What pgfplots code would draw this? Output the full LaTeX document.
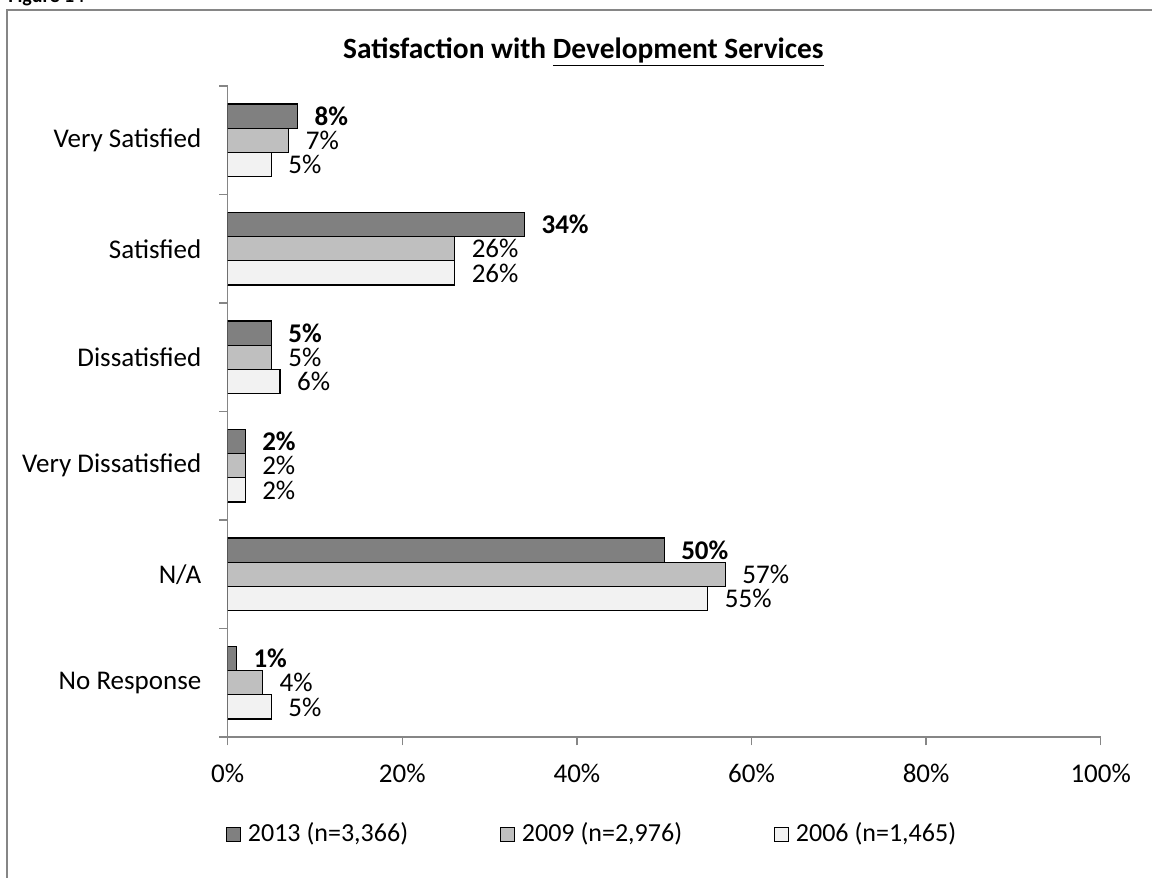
\documentclass[border=0pt]{standalone}
\usepackage{fontspec}
\setmainfont{Carlito}
\usepackage{pgfplots}
\pgfplotsset{compat=1.18}
\definecolor{c13}{HTML}{808080}
\definecolor{c09}{HTML}{BFBFBF}
\definecolor{c06}{HTML}{F2F2F2}
\definecolor{axgray}{HTML}{868686}
\begin{document}
\begin{tikzpicture}[x=1pt,y=1pt]
\useasboundingbox (0,0) rectangle (576,439);
\node[anchor=base west, font=\bfseries\fontsize{10}{12}\selectfont, inner sep=0pt] at (4,437.6) {Figure 14};
\draw[axgray, line width=1pt] (3.5,-20) -- (3.5,434) -- (600,434);
\node[font=\bfseries\fontsize{14.7}{17}\selectfont, inner sep=0pt] at (291.75,413) {Satisfaction with \underline{Development Services}};
\begin{axis}[
  at={(113.85pt,70.5pt)}, anchor=south west,
  scale only axis, width=436.5pt, height=325.5pt,
  xbar, bar width=12.1pt,
  xmin=0, xmax=100, ymin=-0.5, ymax=5.5,
  enlargelimits=false,
  axis lines=left,
  axis line style={-, axgray, line width=0.75pt},
  tick style={axgray, line width=0.75pt},
  tick align=outside,
  major tick length=4.25pt,
  /pgf/number format/assume math mode=true,
  xtick={0,20,40,60,80,100},
  xticklabel={\pgfmathprintnumber{\tick}\%},
  xticklabel style={inner sep=0pt, yshift=-9pt},
  ytick={-0.5,0.5,1.5,2.5,3.5,4.5,5.5},
  yticklabels={},
  extra y ticks={0,1,2,3,4,5},
  extra y tick labels={No Response, N/A, Very Dissatisfied, Dissatisfied, Satisfied, Very Satisfied},
  extra y tick style={major tick length=0pt, yticklabel style={inner sep=0pt, xshift=-13pt}},
  ticklabel style={font=\fontsize{13.5}{16}\selectfont},
  point meta=x,
  nodes near coords={\pgfmathprintnumber{\pgfplotspointmeta}\%},
  nodes near coords style={anchor=west, inner sep=0pt, xshift=8.25pt, font=\fontsize{13.5}{16}\selectfont},
  legend columns=3,
  legend style={at={(axis description cs:-0.002,-0.1475)}, anchor=west, draw=none, fill=none,
    inner sep=0pt, outer sep=0pt,
    nodes={inner sep=0pt, font=\fontsize{13}{15}\selectfont},
    /tikz/every odd column/.append style={column sep=3.5pt},
    /tikz/every even column/.append style={column sep=41pt}},
]
\addplot[fill=c13, draw=black, line width=0.6pt, bar shift=12.1pt,
  nodes near coords style={font=\bfseries\fontsize{13.5}{16}\selectfont},
  legend image code/.code={\draw[fill=c13, draw=black, line width=0.5pt] (0pt,-4pt) rectangle (7pt,3pt);}]
  coordinates {(1,0) (50,1) (2,2) (5,3) (34,4) (8,5)};
\addlegendentry{\makebox[85pt][l]{2013 (n=3,366)}}
\addplot[fill=c09, draw=black, line width=0.6pt, bar shift=0pt,
  legend image code/.code={\draw[fill=c09, draw=black, line width=0.5pt] (0pt,-4pt) rectangle (7pt,3pt);}]
  coordinates {(4,0) (57,1) (2,2) (5,3) (26,4) (7,5)};
\addlegendentry{\makebox[85pt][l]{2009 (n=2,976)}}
\addplot[fill=c06, draw=black, line width=0.6pt, bar shift=-12.1pt,
  legend image code/.code={\draw[fill=c06, draw=black, line width=0.5pt] (0pt,-4pt) rectangle (7pt,3pt);}]
  coordinates {(5,0) (55,1) (2,2) (6,3) (26,4) (5,5)};
\addlegendentry{\makebox[85pt][l]{2006 (n=1,465)}}
\end{axis}
\end{tikzpicture}
\end{document}
